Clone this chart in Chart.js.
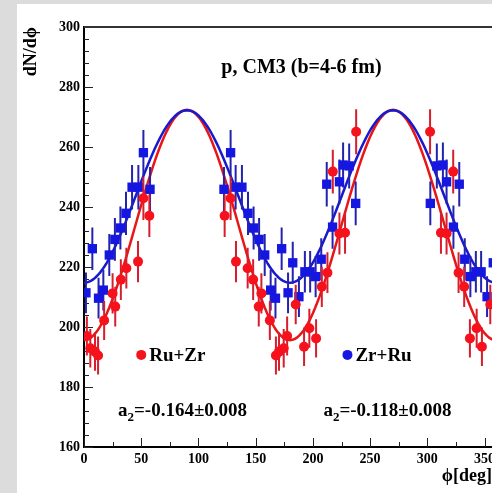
<!DOCTYPE html>
<html>
<head>
<meta charset="utf-8">
<script src="https://cdn.jsdelivr.net/npm/chart.js@4.4.1/dist/chart.umd.min.js"></script>
<style>
  html, body { margin: 0; padding: 0; overflow: hidden; background: #dcdcdc; }
  #panel { position: absolute; left: 17px; top: 4px; right: 0; bottom: 0; background: #fff; }
  #chart { position: absolute; left: 0; top: 0; }
</style>
</head>
<body>
<div id="panel"></div>
<canvas id="chart" width="520" height="493"></canvas>
<script>
// Ru+Zr (red circles)
const redPhi = [2.5, 5.5, 9.6, 12.3, 17.6, 25.0, 27.3, 32.2, 37.0, 47.2, 51.9, 57.1,
  122.9, 128.1, 132.8, 143.0, 147.8, 152.7, 155.0, 162.4, 167.7, 170.4, 174.5, 177.5,
  185.0, 192.3, 196.9, 202.8, 207.8, 212.7, 217.4, 223.2, 228.1, 237.8,
  302.4, 311.9, 316.8, 322.6, 327.3, 332.2, 337.2, 343.1, 347.7, 355.0];
const redVal = [197.0, 192.9, 191.8, 190.5, 202.2, 211.2, 206.8, 215.8, 219.6, 221.8, 242.9, 237.1,
  237.1, 242.9, 221.8, 219.6, 215.8, 206.8, 211.2, 202.2, 190.5, 191.8, 192.9, 197.0,
  207.5, 193.4, 199.6, 196.2, 213.4, 218.1, 251.8, 231.2, 231.4, 265.1,
  265.1, 231.4, 231.2, 251.8, 218.1, 213.4, 196.2, 199.6, 193.4, 207.5];
const redErr = [6.5, 6.4, 6.4, 6.3, 6.5, 6.7, 6.6, 6.8, 6.8, 6.9, 7.2, 7.1,
  7.1, 7.2, 6.9, 6.8, 6.8, 6.6, 6.7, 6.5, 6.3, 6.4, 6.4, 6.5,
  6.6, 6.4, 6.5, 6.4, 6.7, 6.8, 7.3, 7.0, 7.0, 7.5,
  7.5, 7.0, 7.0, 7.3, 6.8, 6.7, 6.4, 6.5, 6.4, 6.6];

// Zr+Ru (blue squares)
const bluePhi = [1.7, 7.3, 12.7, 16.9, 22.1, 27.0, 31.8, 36.7, 42.0, 47.5, 51.9, 57.7,
  122.3, 128.1, 132.5, 138.0, 143.3, 148.2, 153.0, 157.9, 163.1, 167.3, 172.7, 178.3,
  182.4, 187.8, 193.0, 197.6, 202.4, 207.3, 212.1, 217.2, 223.2, 226.4, 231.7, 237.4,
  302.6, 308.3, 313.6, 316.8, 322.8, 327.9, 332.7, 337.6, 342.4, 347.0, 352.2, 357.6];
const blueVal = [211.4, 226.1, 209.6, 212.3, 224.0, 229.2, 233.0, 237.9, 246.6, 246.6, 258.1, 245.9,
  245.9, 258.1, 246.6, 246.6, 237.9, 233.0, 229.2, 224.0, 212.3, 209.6, 226.1, 211.4,
  221.4, 210.1, 218.4, 218.4, 216.8, 222.6, 247.6, 233.3, 248.4, 254.0, 253.7, 241.2,
  241.2, 253.7, 254.0, 248.4, 233.3, 247.6, 222.6, 216.8, 218.4, 218.4, 210.1, 221.4];
const blueErr = [6.8, 7.1, 6.8, 6.8, 7.0, 7.1, 7.2, 7.2, 7.4, 7.4, 7.6, 7.4,
  7.4, 7.6, 7.4, 7.4, 7.2, 7.2, 7.1, 7.0, 6.8, 6.8, 7.1, 6.8,
  7.0, 6.8, 6.9, 6.9, 6.9, 7.0, 7.4, 7.2, 7.4, 7.5, 7.5, 7.3,
  7.3, 7.5, 7.5, 7.4, 7.2, 7.4, 7.0, 6.9, 6.9, 6.9, 6.8, 7.0];

// fit: N * (1 + a2 cos 2phi)
const redNorm = 234.0, redA2 = -0.164;
const blueNorm = 243.5, blueA2 = -0.118;

const SERIF = "'Liberation Serif', 'Times New Roman', serif";
const RED = 'rgb(245,18,28)';
const BLUE = 'rgb(22,22,225)';

function fitCurve(norm, a2) {
  const pts = [];
  for (let phi = 0; phi <= 360; phi += 2) {
    pts.push({x: phi, y: norm * (1 + a2 * Math.cos(2 * phi * Math.PI / 180))});
  }
  return pts;
}

// vertical error bars, drawn just before each point dataset
const errorBars = {
  id: 'errorBars',
  beforeDatasetDraw(chart, args) {
    const ds = chart.data.datasets[args.index];
    if (!ds.errors) return;
    const ctx = chart.ctx, xs = chart.scales.x, ys = chart.scales.y;
    ctx.save();
    ctx.strokeStyle = ds.errorColor;
    ctx.lineWidth = 2;
    ctx.beginPath();
    ds.data.forEach((p, i) => {
      const px = xs.getPixelForValue(p.x);
      ctx.moveTo(px, ys.getPixelForValue(p.y - ds.errors[i]));
      ctx.lineTo(px, ys.getPixelForValue(p.y + ds.errors[i]));
    });
    ctx.stroke();
    ctx.restore();
  }
};

// inward tick marks and top frame line
const frameTicks = {
  id: 'frameTicks',
  beforeDatasetsDraw(chart) {
    const ctx = chart.ctx, a = chart.chartArea, xs = chart.scales.x, ys = chart.scales.y;
    ctx.save();
    ctx.strokeStyle = '#222';
    ctx.lineWidth = 1;
    ctx.beginPath();
    for (let v = 160; v <= 300; v += 4) {
      const py = Math.round(ys.getPixelForValue(v)) + 0.5;
      const len = v % 20 === 0 ? 9 : 5;
      ctx.moveTo(a.left, py);
      ctx.lineTo(a.left + len, py);
    }
    for (let v = 0; v <= 360; v += 25) {
      const px = Math.round(xs.getPixelForValue(v)) + 0.5;
      const len = v % 50 === 0 ? 9 : 5;
      ctx.moveTo(px, a.bottom);
      ctx.lineTo(px, a.bottom - len);
    }
    ctx.stroke();
    ctx.strokeStyle = '#333';
    ctx.lineWidth = 2;
    ctx.beginPath();
    ctx.moveTo(a.left, a.top);
    ctx.lineTo(a.right + 10, a.top);
    ctx.stroke();
    ctx.restore();
  }
};

// titles, legend entries and fit results
const labels = {
  id: 'labels',
  afterDatasetsDraw(chart) {
    const ctx = chart.ctx, xs = chart.scales.x, ys = chart.scales.y;
    const X = v => xs.getPixelForValue(v), Y = v => ys.getPixelForValue(v);
    ctx.save();
    ctx.fillStyle = '#000';
    ctx.textBaseline = 'alphabetic';

    ctx.font = 'bold 20px ' + SERIF;
    ctx.textAlign = 'center';
    ctx.fillText('p, CM3 (b=4-6 fm)', X(190), Y(284.6));

    // legend
    ctx.font = 'bold 19px ' + SERIF;
    ctx.textAlign = 'left';
    [[50, RED, 'Ru+Zr'], [230.2, BLUE, 'Zr+Ru']].forEach(([phi, col, txt]) => {
      const mx = X(phi), my = Y(190.7);
      ctx.fillStyle = col;
      ctx.beginPath();
      ctx.arc(mx, my, 5, 0, Math.PI * 2);
      ctx.fill();
      ctx.fillStyle = '#000';
      ctx.fillText(txt, mx + 8, my + 6);
    });

    // fit results
    [[29.7, redA2], [209.2, blueA2]].forEach(([phi, a2]) => {
      let x = X(phi);
      const y = Y(170.3);
      ctx.font = 'bold 19px ' + SERIF;
      ctx.fillText('a', x, y);
      x += ctx.measureText('a').width;
      ctx.font = 'bold 13px ' + SERIF;
      ctx.fillText('2', x, y + 5);
      x += ctx.measureText('2').width;
      ctx.font = 'bold 19px ' + SERIF;
      ctx.fillText('=' + a2.toFixed(3) + '\u00b10.008', x, y);
    });

    // x axis title
    ctx.font = 'bold 18px ' + SERIF;
    ctx.textAlign = 'right';
    ctx.fillText('\u03d5[deg]', 492, 481);
    ctx.restore();
  }
};

const redPoints = redPhi.map((p, i) => ({x: p, y: redVal[i]}));
const bluePoints = bluePhi.map((p, i) => ({x: p, y: blueVal[i]}));

new Chart(document.getElementById('chart'), {
  type: 'scatter',
  data: {
    datasets: [
      {
        label: 'Ru+Zr',
        data: redPoints,
        errors: redErr,
        errorColor: 'rgb(215,30,45)',
        pointStyle: 'circle',
        pointRadius: 5,
        pointBorderWidth: 0,
        backgroundColor: RED,
        borderColor: RED,
        order: 1
      },
      {
        label: 'Zr+Ru',
        data: bluePoints,
        errors: blueErr,
        errorColor: 'rgb(35,35,175)',
        pointStyle: 'rect',
        pointRadius: 6.6,
        pointBorderWidth: 0,
        backgroundColor: BLUE,
        borderColor: BLUE,
        order: 2
      },
      {
        label: 'Zr+Ru fit',
        data: fitCurve(blueNorm, blueA2),
        showLine: true,
        pointRadius: 0,
        borderColor: 'rgb(25,25,205)',
        borderWidth: 2.5,
        tension: 0,
        order: 3
      },
      {
        label: 'Ru+Zr fit',
        data: fitCurve(redNorm, redA2),
        showLine: true,
        pointRadius: 0,
        borderColor: 'rgb(232,22,22)',
        borderWidth: 2.5,
        tension: 0,
        order: 4
      }
    ]
  },
  options: {
    responsive: false,
    animation: false,
    layout: { padding: { top: 27, right: 24, left: 0, bottom: 0 } },
    plugins: { legend: { display: false }, tooltip: { enabled: false } },
    scales: {
      x: {
        type: 'linear',
        min: 0,
        max: 360,
        afterFit: s => { s.height = 46; },
        grid: { drawOnChartArea: false, drawTicks: false },
        border: { color: '#000', width: 2 },
        ticks: {
          stepSize: 50,
          includeBounds: false,
          autoSkip: false,
          maxRotation: 0,
          padding: 4,
          color: '#000',
          font: { family: SERIF, size: 14, weight: 'bold' }
        }
      },
      y: {
        min: 160,
        max: 300,
        afterFit: s => { s.width = 84; },
        grid: { drawOnChartArea: false, drawTicks: false },
        border: { color: '#000', width: 2 },
        ticks: {
          stepSize: 20,
          padding: 4,
          color: '#000',
          font: { family: SERIF, size: 14, weight: 'bold' }
        },
        title: {
          display: true,
          text: 'dN/d\u03d5',
          align: 'end',
          color: '#000',
          font: { family: SERIF, size: 18, weight: 'bold' },
          padding: { top: 21, bottom: 0 }
        }
      }
    }
  },
  plugins: [errorBars, frameTicks, labels]
});
</script>
</body>
</html>
